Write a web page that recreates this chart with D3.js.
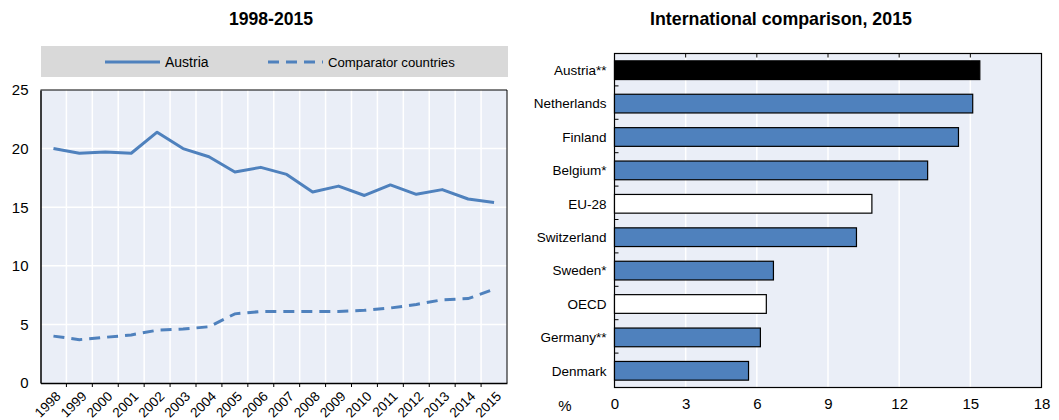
<!DOCTYPE html>
<html>
<head>
<meta charset="utf-8">
<script src="https://cdn.jsdelivr.net/npm/d3@7"></script>
<style>
  body { margin: 0; background: #fff; }
  svg text { font-family: "Liberation Sans Narrow", "Arial Narrow", "Liberation Sans", Arial, sans-serif; fill: #000; }
</style>
</head>
<body>
<div id="chart"></div>
<script>
// left panel: 1998-2015
const years = d3.range(1998, 2016);
const austria = [20.0, 19.6, 19.7, 19.6, 21.4, 20.0, 19.3, 18.0, 18.4, 17.8, 16.3, 16.8, 16.0, 16.9, 16.1, 16.5, 15.7, 15.4];
const comparators = [4.0, 3.7, 3.9, 4.1, 4.5, 4.6, 4.8, 5.9, 6.1, 6.1, 6.1, 6.1, 6.2, 6.4, 6.7, 7.1, 7.2, 8.0];
const leftTicks = [0, 5, 10, 15, 20, 25];

// right panel: international comparison, 2015
const countries = ["Austria**", "Netherlands", "Finland", "Belgium*", "EU-28", "Switzerland", "Sweden*", "OECD", "Germany**", "Denmark"];
const shares = [15.4, 15.1, 14.5, 13.2, 10.85, 10.2, 6.7, 6.4, 6.15, 5.65];
const barKind = ["highlight", "country", "country", "country", "aggregate", "country", "country", "aggregate", "country", "country"];
const rightTicks = [0, 3, 6, 9, 12, 15, 18];

const blue = "#4f81bd";
const plotBg = "#eaeef7";

const svg = d3.select("#chart").append("svg")
  .attr("width", 1059)
  .attr("height", 420);

// ---------- left chart ----------
const L = { left: 40.5, right: 507, top: 90, bottom: 383 };

svg.append("text")
  .attr("x", 271).attr("y", 25)
  .attr("text-anchor", "middle")
  .style("font-weight", "bold")
  .style("font-size", "17.6px")
  .text("1998-2015");

// legend
const legend = svg.append("g");
legend.append("rect")
  .attr("x", 41).attr("y", 46).attr("width", 467).attr("height", 31)
  .attr("fill", "#d9d9d9");
legend.append("line")
  .attr("x1", 105).attr("x2", 160).attr("y1", 62).attr("y2", 62)
  .attr("stroke", blue).attr("stroke-width", 3);
legend.append("text")
  .attr("x", 165).attr("y", 67).style("font-size", "14px").text("Austria");
legend.append("line")
  .attr("x1", 268).attr("x2", 323).attr("y1", 62).attr("y2", 62)
  .attr("stroke", blue).attr("stroke-width", 3)
  .attr("stroke-dasharray", "11,7");
legend.append("text")
  .attr("x", 328).attr("y", 67).style("font-size", "13.2px").text("Comparator countries");

const xL = d3.scaleBand().domain(years).range([L.left, L.right]);
const yL = d3.scaleLinear().domain([0, 25]).range([L.bottom, L.top]);

svg.append("rect")
  .attr("x", L.left).attr("y", L.top)
  .attr("width", L.right - L.left).attr("height", L.bottom - L.top)
  .attr("fill", plotBg);

// horizontal gridlines
svg.append("g").selectAll("line")
  .data(leftTicks.slice(1, -1))
  .join("line")
  .attr("x1", L.left).attr("x2", L.right)
  .attr("y1", d => yL(d)).attr("y2", d => yL(d))
  .attr("stroke", "#fff").attr("stroke-width", 1.5);

// vertical gridlines at band boundaries
svg.append("g").selectAll("line")
  .data(years.slice(1))
  .join("line")
  .attr("x1", d => xL(d)).attr("x2", d => xL(d))
  .attr("y1", L.top).attr("y2", L.bottom)
  .attr("stroke", "#fff").attr("stroke-width", 1.5);

// frame: top & right thin, left & bottom axis
svg.append("path")
  .attr("d", `M${L.left},${L.top}H${L.right}V${L.bottom}`)
  .attr("fill", "none").attr("stroke", "#000").attr("stroke-width", 1);

const yAxisL = svg.append("g")
  .attr("transform", `translate(${L.left},0)`)
  .call(d3.axisLeft(yL).tickValues(leftTicks).tickSize(0).tickPadding(12));
yAxisL.select(".domain").attr("stroke", "#000").attr("stroke-width", 1.5);
yAxisL.selectAll("text").style("font-size", "15px").style("font-family", null);

const xAxisL = svg.append("g")
  .attr("transform", `translate(0,${L.bottom})`)
  .call(d3.axisBottom(xL).tickSize(0).tickFormat(d3.format("d")));
xAxisL.select(".domain").attr("stroke", "#000").attr("stroke-width", 1.5);
xAxisL.selectAll("text")
  .style("font-size", "13.5px").style("font-family", null)
  .attr("text-anchor", "end")
  .attr("dy", null)
  .attr("transform", "translate(6,12) rotate(-45)");

// small ticks at band boundaries below axis
svg.append("g").selectAll("line")
  .data(years.slice(1))
  .join("line")
  .attr("x1", d => xL(d)).attr("x2", d => xL(d))
  .attr("y1", L.bottom).attr("y2", L.bottom + 4)
  .attr("stroke", "#000");

const line = d3.line()
  .x((d, i) => xL(years[i]) + xL.bandwidth() / 2)
  .y(d => yL(d));

svg.append("path")
  .datum(austria)
  .attr("d", line)
  .attr("fill", "none").attr("stroke", blue).attr("stroke-width", 3)
  .attr("stroke-linejoin", "round");

svg.append("path")
  .datum(comparators)
  .attr("d", line)
  .attr("fill", "none").attr("stroke", blue).attr("stroke-width", 3)
  .attr("stroke-dasharray", "11,7");

// ---------- right chart ----------
const R = { left: 614.5, right: 1041.5, top: 53.5, bottom: 387.5 };

svg.append("text")
  .attr("x", 781).attr("y", 25)
  .attr("text-anchor", "middle")
  .style("font-weight", "bold")
  .style("font-size", "17.8px")
  .text("International comparison, 2015");

const xR = d3.scaleLinear().domain([0, 18]).range([R.left, R.right]);
const yR = d3.scaleBand().domain(countries).range([R.top, R.bottom]).paddingInner(0.44).paddingOuter(0.22);

svg.append("rect")
  .attr("x", R.left).attr("y", R.top)
  .attr("width", R.right - R.left).attr("height", R.bottom - R.top)
  .attr("fill", plotBg);

svg.append("g").selectAll("line")
  .data(rightTicks.slice(1, -1))
  .join("line")
  .attr("x1", d => xR(d)).attr("x2", d => xR(d))
  .attr("y1", R.top).attr("y2", R.bottom)
  .attr("stroke", "#fff").attr("stroke-width", 1.5);

// tick marks hanging from top border
svg.append("g").selectAll("line")
  .data(rightTicks.slice(1, -1))
  .join("line")
  .attr("x1", d => xR(d)).attr("x2", d => xR(d))
  .attr("y1", R.top).attr("y2", R.top + 4)
  .attr("stroke", "#000");

svg.append("rect")
  .attr("x", R.left).attr("y", R.top)
  .attr("width", R.right - R.left).attr("height", R.bottom - R.top)
  .attr("fill", "none").attr("stroke", "#000").attr("stroke-width", 1.2);

// category boundary ticks on left axis
const step = yR.step();
svg.append("g").selectAll("line")
  .data(countries.slice(1))
  .join("line")
  .attr("x1", R.left).attr("x2", R.left + 4)
  .attr("y1", d => yR(d) - step * yR.paddingInner() / 2 - 1)
  .attr("y2", d => yR(d) - step * yR.paddingInner() / 2 - 1)
  .attr("stroke", "#000");

svg.append("g").selectAll("rect")
  .data(countries)
  .join("rect")
  .attr("x", xR(0))
  .attr("y", d => yR(d))
  .attr("width", (d, i) => xR(shares[i]) - xR(0))
  .attr("height", yR.bandwidth())
  .attr("fill", (d, i) => barKind[i] === "highlight" ? "#000" : barKind[i] === "aggregate" ? "#fff" : blue)
  .attr("stroke", "#000").attr("stroke-width", 1.2);

svg.append("g").selectAll("text")
  .data(countries)
  .join("text")
  .attr("x", R.left - 8)
  .attr("y", d => yR(d) + yR.bandwidth() / 2)
  .attr("dy", "0.35em")
  .attr("text-anchor", "end")
  .style("font-size", "13.5px")
  .text(d => d);

const xAxisR = svg.append("g")
  .attr("transform", `translate(0,${R.bottom})`)
  .call(d3.axisBottom(xR).tickValues(rightTicks).tickSize(0).tickPadding(11));
xAxisR.select(".domain").remove();
xAxisR.selectAll("text").style("font-size", "15px").style("font-family", null);

svg.append("text")
  .attr("x", 565).attr("y", 411)
  .attr("text-anchor", "middle")
  .style("font-size", "15px")
  .text("%");
</script>
</body>
</html>
